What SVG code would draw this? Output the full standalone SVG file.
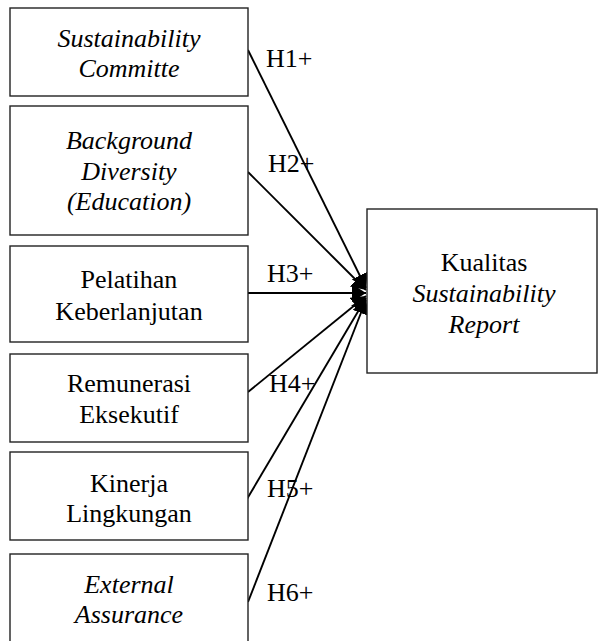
<svg xmlns="http://www.w3.org/2000/svg" width="598" height="641" viewBox="0 0 598 641">
<style>
.box{fill:#fff;stroke:#222;stroke-width:1.4}
.t{font-family:"Liberation Serif","Times New Roman",serif;font-size:26px;fill:#000;text-anchor:middle}
.i{font-style:italic}
.lbl{font-family:"Liberation Serif","Times New Roman",serif;font-size:26px;fill:#000}
.ln{stroke:#000;stroke-width:1.9;fill:none;marker-end:url(#ah)}
</style>
<defs>
<marker id="ah" viewBox="0 0 10 10" refX="10" refY="5" markerWidth="14" markerHeight="18" markerUnits="userSpaceOnUse" orient="auto" preserveAspectRatio="none">
<path d="M0,0 L10,5 L0,10 Z" fill="#000"/>
</marker>
</defs>
<rect width="598" height="641" fill="#fff"/>
<g id="connectors">
<line class="ln" x1="248" y1="50" x2="366" y2="288"/>
<line class="ln" x1="248" y1="172" x2="366" y2="290"/>
<line class="ln" x1="248" y1="293" x2="366" y2="293"/>
<line class="ln" x1="248" y1="392" x2="366" y2="296"/>
<line class="ln" x1="247" y1="499" x2="366" y2="298"/>
<line class="ln" x1="248" y1="602" x2="366" y2="300"/>
<text class="lbl" x="266" y="67">H1+</text>
<text class="lbl" x="268" y="172">H2+</text>
<text class="lbl" x="267" y="282">H3+</text>
<text class="lbl" x="269" y="392">H4+</text>
<text class="lbl" x="267" y="497">H5+</text>
<text class="lbl" x="267" y="601">H6+</text>
</g>
<g id="n1">
<rect class="box" x="10" y="8" width="238" height="88"/>
<text class="t i" x="129" y="47">Sustainability</text>
<text class="t i" x="129" y="77">Committe</text>
</g>
<g id="n2">
<rect class="box" x="10" y="106" width="238" height="129"/>
<text class="t i" x="129" y="149">Background</text>
<text class="t i" x="129" y="180">Diversity</text>
<text class="t i" x="129" y="210">(Education)</text>
</g>
<g id="n3">
<rect class="box" x="10" y="246" width="238" height="96"/>
<text class="t" x="129" y="288">Pelatihan</text>
<text class="t" x="129" y="320">Keberlanjutan</text>
</g>
<g id="n4">
<rect class="box" x="10" y="354" width="238" height="88"/>
<text class="t" x="129" y="392">Remunerasi</text>
<text class="t" x="129" y="423">Eksekutif</text>
</g>
<g id="n5">
<rect class="box" x="10" y="452" width="238" height="88"/>
<text class="t" x="129" y="492">Kinerja</text>
<text class="t" x="129" y="522">Lingkungan</text>
</g>
<g id="n6">
<rect class="box" x="10" y="554" width="238" height="100"/>
<text class="t i" x="129" y="593">External</text>
<text class="t i" x="129" y="623">Assurance</text>
</g>
<g id="target">
<rect class="box" x="367" y="209" width="230" height="164"/>
<text class="t" x="484" y="271">Kualitas</text>
<text class="t i" x="484" y="302">Sustainability</text>
<text class="t i" x="484" y="333">Report</text>
</g>
</svg>
